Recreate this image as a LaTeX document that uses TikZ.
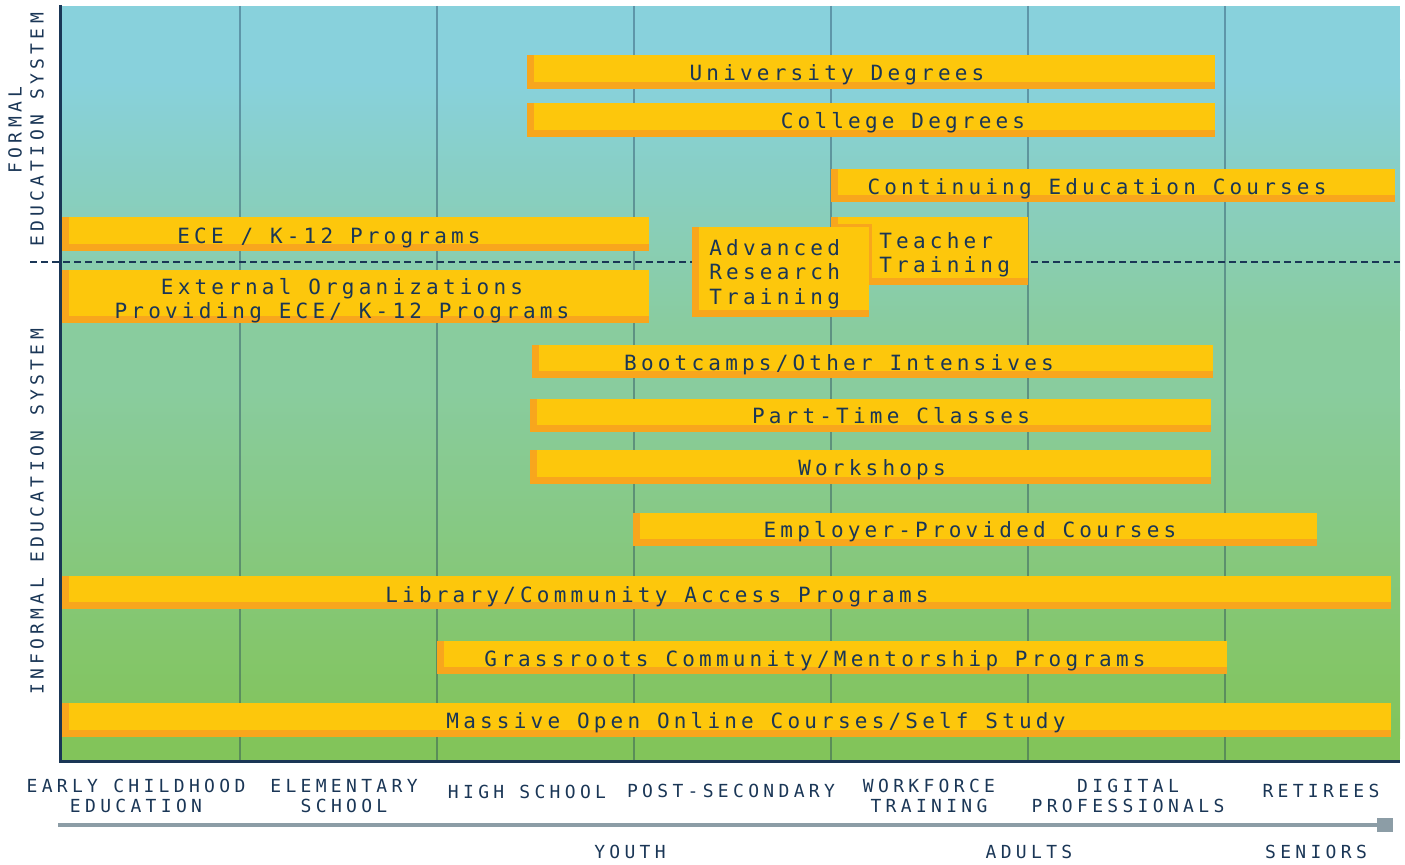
\documentclass[tikz,border=0pt]{standalone}
\usepackage{fontspec}
\newfontfamily\pixfont[LetterSpace=24]{DejaVu Sans Mono}
\newfontfamily\barfont[LetterSpace=20]{DejaVu Sans Mono}
\usetikzlibrary{arrows.meta,fit}

\definecolor{skyblue}{HTML}{88D1DC}
\definecolor{seafoam}{HTML}{89CC9E}
\definecolor{grassgreen}{HTML}{82C45A}
\definecolor{baryellow}{HTML}{FDC70C}
\definecolor{barorange}{HTML}{F8A61D}
\definecolor{inknavy}{HTML}{1A3656}
\definecolor{axisgray}{HTML}{8C9DA6}

\tikzset{
  bar/.style={fill=baryellow, draw=none, inner sep=0pt,
    path picture={
      \fill[barorange] (path picture bounding box.south west) rectangle ([yshift=3.5pt]path picture bounding box.south east);
      \fill[barorange] (path picture bounding box.south west) rectangle ([xshift=3.5pt]path picture bounding box.north west);}},
  bartext/.style={text=inknavy, inner sep=0pt, align=center, font=\barfont\fontsize{10.5}{12.2}\selectfont},
  axistext/.style={text=inknavy, inner sep=0pt, align=center, font=\pixfont\fontsize{9}{10}\selectfont},
  sidetext/.style={axistext, rotate=90, font=\pixfont\fontsize{9}{11}\selectfont},
  gridline/.style={draw=inknavy, draw opacity=0.38, line width=1.2pt},
  divider/.style={draw=inknavy, line width=0.6pt, dash pattern={on 3.5pt off 2pt}},
  axisline/.style={draw=inknavy, line width=1.5pt},
  timeline/.style={draw=axisgray, line width=2pt, -{Rectangle[length=8pt,width=7pt]}}
}

\begin{document}
\begin{tikzpicture}[x=0.5pt,y=-0.5pt]
\useasboundingbox (0,0) rectangle (1405,865);

\fill[skyblue] (60,6) rectangle (1400,81);
\shade[top color=skyblue, bottom color=seafoam] (60,80) rectangle (1400,331);
\fill[seafoam] (60,330) rectangle (1400,391);
\shade[top color=seafoam, bottom color=grassgreen] (60,390) rectangle (1400,739);
\fill[grassgreen] (60,738) rectangle (1400,762);

\foreach \gx in {240,437,634,831,1028,1225}
  \draw[gridline] (\gx,6) -- (\gx,762);

\draw[divider] (30,262) -- (1400,262);

% formal education
\node[bar, fit={(527,55) (1215,89)}] (univ) {};
\node[bartext, anchor=mid] (univ-t) at (837,76) {University Degrees};
\node[bar, fit={(527,103) (1215,137)}] (coll) {};
\node[bartext, anchor=mid] (coll-t) at (903,124) {College Degrees};
\node[bar, fit={(831,169) (1395,202)}] (cont) {};
\node[bartext, anchor=mid] (cont-t) at (1097,190) {Continuing Education Courses};
\node[bar, fit={(62,217) (649,251)}] (ece) {};
\node[bartext, anchor=mid] (ece-t) at (329,239) {ECE / K-12 Programs};
\node[bar, fit={(831,217) (1028,285)}] (teach) {};
\fill[barorange] (831,224) rectangle (872,285);
\node[bartext, anchor=west, align=left] (teach-t) at (879,255) {Teacher\\Training};
\node[bar, fit={(692,227) (869,317)}] (adv) {};
\node[bartext, anchor=west, align=left] (adv-t) at (709,274) {Advanced\\Research\\Training};

% informal education
\node[bar, fit={(62,270) (649,323)}] (ext) {};
\node[bartext] (ext-t) at (342,301) {External Organizations\\Providing ECE/ K-12 Programs};
\node[bar, fit={(532,345) (1213,378)}] (boot) {};
\node[bartext, anchor=mid] (boot-t) at (839,366) {Bootcamps/Other Intensives};
\node[bar, fit={(530,399) (1211,432)}] (part) {};
\node[bartext, anchor=mid] (part-t) at (891,419) {Part-Time Classes};
\node[bar, fit={(530,450) (1211,484)}] (work) {};
\node[bartext, anchor=mid] (work-t) at (872,471) {Workshops};
\node[bar, fit={(633,513) (1317,546)}] (empl) {};
\node[bartext, anchor=mid] (empl-t) at (970,533) {Employer-Provided Courses};
\node[bar, fit={(62,576) (1391,609)}] (libr) {};
\node[bartext, anchor=mid] (libr-t) at (657,598) {Library/Community Access Programs};
\node[bar, fit={(437,641) (1227,674)}] (gras) {};
\node[bartext, anchor=mid] (gras-t) at (815,662) {Grassroots Community/Mentorship Programs};
\node[bar, fit={(62,703) (1391,737)}] (mooc) {};
\node[bartext, anchor=mid] (mooc-t) at (756,724) {Massive Open Online Courses/Self Study};

\draw[axisline] (60,5) -- (60,762) -- (1400,762);

\node[sidetext] (formal) at (26,130) {FORMAL\\EDUCATION SYSTEM};
\node[sidetext] (informal) at (37,512) {INFORMAL EDUCATION SYSTEM};

\node[axistext] (ece-a) at (136,796) {EARLY CHILDHOOD\\EDUCATION};
\node[axistext] (elem-a) at (344,796) {ELEMENTARY\\SCHOOL};
\node[axistext] (high-a) at (527,792) {HIGH SCHOOL};
\node[axistext] (post-a) at (731,791) {POST-SECONDARY};
\node[axistext] (wf-a) at (929,796) {WORKFORCE\\TRAINING};
\node[axistext] (dig-a) at (1128,796) {DIGITAL\\PROFESSIONALS};
\node[axistext] (ret-a) at (1321,791) {RETIREES};

\coordinate (tl-start) at (58,825);
\coordinate (tl-end) at (1393,825);
\draw[timeline] (tl-start) -- (tl-end);

\node[axistext] (youth) at (630,852) {YOUTH};
\node[axistext] (adults) at (1029,852) {ADULTS};
\node[axistext] (seniors) at (1316,852) {SENIORS};
\end{tikzpicture}
\end{document}
